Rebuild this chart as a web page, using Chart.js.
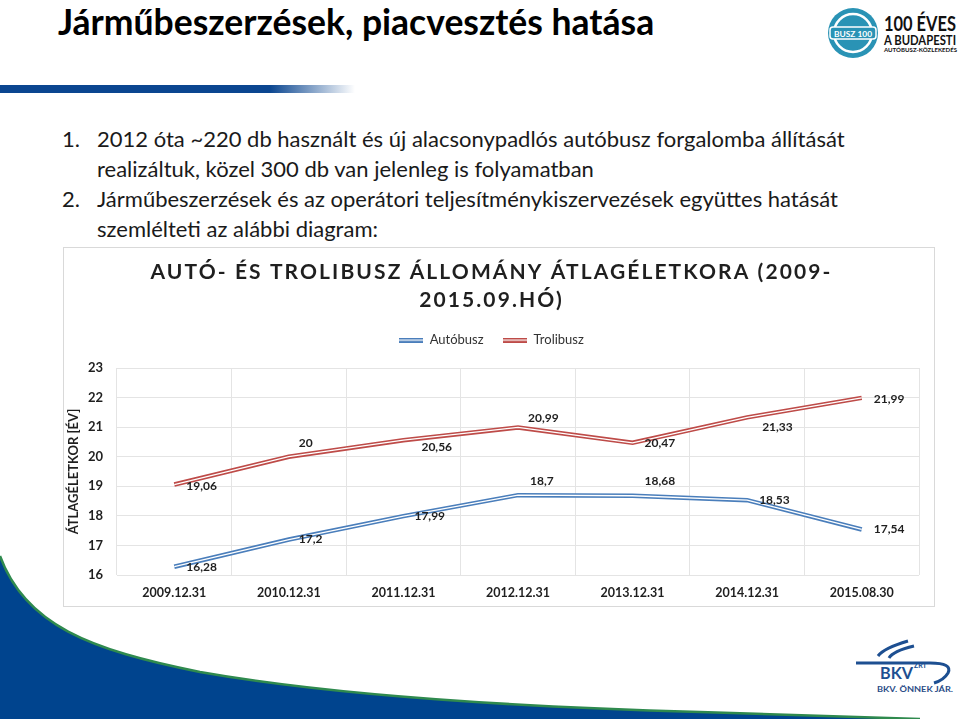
<!DOCTYPE html>
<html>
<head>
<meta charset="utf-8">
<script src="https://cdn.jsdelivr.net/npm/chart.js@4.4.1/dist/chart.umd.min.js"></script>
<style>
html,body{margin:0;padding:0;background:#fff;}
body{width:960px;height:719px;position:relative;overflow:hidden;font-family:Lato,"Open Sans",sans-serif;}
#deco{position:absolute;left:0;top:0;width:960px;height:719px;}
#title{position:absolute;left:58px;top:4px;font-size:35.5px;line-height:35px;font-weight:bold;color:#000;white-space:nowrap;}
#bar{position:absolute;left:0;top:85px;width:355px;height:8px;background:linear-gradient(to right,#0b4690 0%,#0b4690 76%,rgba(11,70,144,0) 100%);}
#bullets{position:absolute;left:62px;top:124px;font-size:22px;line-height:30px;color:#1a1a1a;white-space:nowrap;}
#bullets .it{position:relative;padding-left:35px;}
#bullets .n{position:absolute;left:0;top:0;}
#box{position:absolute;left:63px;top:247px;width:872px;height:360px;box-sizing:border-box;border:1px solid #d9d9d9;background:#fff;}
#cw{position:absolute;left:0;top:0;width:870px;height:358px;}
</style>
</head>
<body>
<svg id="deco" width="960" height="719" viewBox="0 0 960 719">
  <path d="M0,556 C25,625 90,650 200,672 C330,695 520,707 700,712 C800,715 880,718 920,719 L0,719 Z" fill="#00448e"/>
  <path d="M0,556 C25,625 90,650 200,672 C330,695 520,707 700,712 C800,715 880,718 920,719" fill="none" stroke="#2f8a4e" stroke-width="2.5"/>
  <!-- top right logo -->
  <circle cx="853" cy="33" r="25" fill="#2a93b5"/>
  <circle cx="853" cy="33" r="19" fill="none" stroke="#ffffff" stroke-width="2.5"/>
  <rect x="830" y="27" width="46" height="12" rx="3" fill="#2a93b5" stroke="#ffffff" stroke-width="1.5"/>
  <text x="853" y="36.5" text-anchor="middle" font-family="Lato" font-weight="bold" font-size="8" fill="#ffffff" textLength="38" lengthAdjust="spacingAndGlyphs">BUSZ 100</text>
  <text x="884" y="31" font-family="Lato" font-weight="bold" font-size="20" fill="#111" textLength="72" lengthAdjust="spacingAndGlyphs">100 ÉVES</text>
  <text x="884" y="45" font-family="Lato" font-weight="bold" font-size="14" fill="#111" textLength="72" lengthAdjust="spacingAndGlyphs">A BUDAPESTI</text>
  <text x="884" y="52" font-family="Lato" font-weight="bold" font-size="5.5" fill="#111" textLength="73" lengthAdjust="spacingAndGlyphs">AUTÓBUSZ-KÖZLEKEDÉS</text>
  <!-- BKV logo -->
  <path d="M908,641 Q884,648 878,656" fill="none" stroke="#1d4f91" stroke-width="3"/>
  <path d="M914,646 Q893,651 889,658" fill="none" stroke="#1d4f91" stroke-width="3"/>
  <path d="M856,663 L930,663 Q953,663 948,673 Q944,680 934,683" fill="none" stroke="#1d4f91" stroke-width="3"/>
  <text x="880" y="679" font-family="Lato" font-weight="bold" font-size="17" fill="#1d4f91" textLength="33" lengthAdjust="spacingAndGlyphs">BKV</text>
  <text x="914" y="668" font-family="Lato" font-weight="bold" font-size="7" fill="#1d4f91">ZRT</text>
  <text x="877" y="692" font-family="Lato" font-weight="bold" font-size="8" fill="#2b4d87" textLength="76" lengthAdjust="spacingAndGlyphs">BKV. ÖNNEK JÁR.</text>
</svg>
<div id="title">Járműbeszerzések, piacvesztés hatása</div>
<div id="bar"></div>
<div id="bullets">
  <div class="it"><span class="n">1.</span>2012 óta ~220 db használt és új alacsonypadlós autóbusz forgalomba állítását</div>
  <div class="it">realizáltuk, közel 300 db van jelenleg is folyamatban</div>
  <div class="it"><span class="n">2.</span>Járműbeszerzések és az operátori teljesítménykiszervezések együttes hatását</div>
  <div class="it">szemlélteti az alábbi diagram:</div>
</div>
<div id="box"><div id="cw"><canvas id="c"></canvas></div></div>
<script>
// ---- data ----
const categories = ['2009.12.31','2010.12.31','2011.12.31','2012.12.31','2013.12.31','2014.12.31','2015.08.30'];
const autobusz  = [16.28, 17.2, 17.99, 18.7, 18.68, 18.53, 17.54];
const trolibusz = [19.06, 20, 20.56, 20.99, 20.47, 21.33, 21.99];
const yTicks = [16, 17, 18, 19, 20, 21, 22, 23];
const seriesNames = ['Autóbusz', 'Trolibusz'];
const chartTitle = ['AUTÓ- ÉS TROLIBUSZ ÁLLOMÁNY ÁTLAGÉLETKORA (2009-', '2015.09.HÓ)'];
const yTitle = 'ÁTLAGÉLETKOR [ÉV]';

// ---- styling (label nudges relative to each point) ----
const COLORS = { auto: '#4A7EBB', troli: '#BE4B48' };
const LABEL_DX = { auto: [12, 10, 11, 12, 12, 12, 12], troli: [12, 10, 18, 10, 12, 15, 12] };
const LABEL_DY = { auto: [0, 0, 0, -14, -15, 0, 0], troli: [2, -14, 7, -9, 0, 10, 1] };
const TEXT = '#1f1f1f';
const GRID = '#e4e4e4';

function swatch(color) {
  const c = document.createElement('canvas');
  c.width = 24; c.height = 5;
  const g = c.getContext('2d');
  g.fillStyle = color; g.fillRect(0, 0, 24, 5);
  g.fillStyle = '#ffffff'; g.fillRect(0, 2, 24, 1.2);
  return c;
}

const fmt = v => String(v).replace('.', ',');

const helperPlugin = {
  id: 'helper',
  beforeUpdate(chart) {
    const tb = chart.titleBlock;
    if (tb && !tb._ls) {
      const d = tb.draw;
      tb.draw = function () { const c = this.ctx; c.save(); c.letterSpacing = '2.1px'; d.apply(this, arguments); c.restore(); };
      tb._ls = true;
    }
    const lg = chart.legend;
    if (lg && !lg._fx) {
      const f = lg.fit;
      lg.fit = function () { f.apply(this, arguments); this.height += 11.5; };
      lg._fx = true;
    }
  },
  afterDatasetsDraw(chart) {
    const ctx = chart.ctx;
    chart.data.datasets.forEach((d, i) => {
      if (!d.seriesKey) return;
      const meta = chart.getDatasetMeta(i);
      ctx.save();
      ctx.font = 'bold 12px Lato';
      ctx.fillStyle = TEXT;
      ctx.textAlign = 'left';
      ctx.textBaseline = 'middle';
      meta.data.forEach((pt, j) => {
        ctx.fillText(fmt(d.data[j]), pt.x + LABEL_DX[d.seriesKey][j], pt.y + LABEL_DY[d.seriesKey][j]);
      });
      ctx.restore();
    });
  }
};

new Chart(document.getElementById('c'), {
  type: 'line',
  data: {
    labels: categories,
    datasets: [
      { label: seriesNames[0], seriesKey: 'auto', data: autobusz, borderColor: COLORS.auto, backgroundColor: COLORS.auto, borderWidth: 4.5, pointRadius: 0, pointStyle: swatch(COLORS.auto), tension: 0, order: 2 },
      { label: seriesNames[1], seriesKey: 'troli', data: trolibusz, borderColor: COLORS.troli, backgroundColor: COLORS.troli, borderWidth: 4.5, pointRadius: 0, pointStyle: swatch(COLORS.troli), tension: 0, order: 2 },
      { label: '_inner1', data: autobusz, borderColor: '#ffffff', borderWidth: 1.3, pointRadius: 0, tension: 0, order: 1 },
      { label: '_inner2', data: trolibusz, borderColor: '#ffffff', borderWidth: 1.3, pointRadius: 0, tension: 0, order: 1 }
    ]
  },
  options: {
    responsive: true,
    maintainAspectRatio: false,
    animation: false,
    layout: { padding: { left: 0, right: 15, top: 0, bottom: 0 } },
    plugins: {
      title: {
        display: true,
        text: chartTitle,
        color: '#1f1f1f',
        font: { family: 'Lato', size: 21, weight: 'bold', lineHeight: '28px' },
        padding: { top: 10, bottom: 0 }
      },
      legend: {
        display: true,
        labels: {
          usePointStyle: true,
          pointStyleWidth: 24,
          padding: 19.5,
          color: '#333333',
          font: { family: 'Lato', size: 13 },
          filter: item => !item.text.startsWith('_')
        }
      },
      tooltip: { enabled: false }
    },
    scales: {
      x: {
        offset: true,
        grid: { offset: true, color: GRID, drawTicks: false },
        border: { display: false },
        ticks: { color: TEXT, font: { family: 'Lato', size: 12.5, weight: 'bold' }, padding: 10, maxRotation: 0, autoSkip: false },
        afterFit(s) { s.height = 31; }
      },
      y: {
        min: 16, max: 23,
        afterBuildTicks(s) { s.ticks = yTicks.map(v => ({ value: v })); },
        grid: { color: GRID, drawTicks: false },
        border: { display: false },
        ticks: { color: TEXT, font: { family: 'Lato', size: 13, weight: 'bold' }, padding: 14 },
        title: { display: true, text: yTitle, color: TEXT, font: { family: 'Lato', size: 13, weight: 'bold' }, padding: { top: 2, bottom: 0 } },
        afterFit(s) { s.width = 53; }
      }
    }
  },
  plugins: [helperPlugin]
});
</script>
</body>
</html>
